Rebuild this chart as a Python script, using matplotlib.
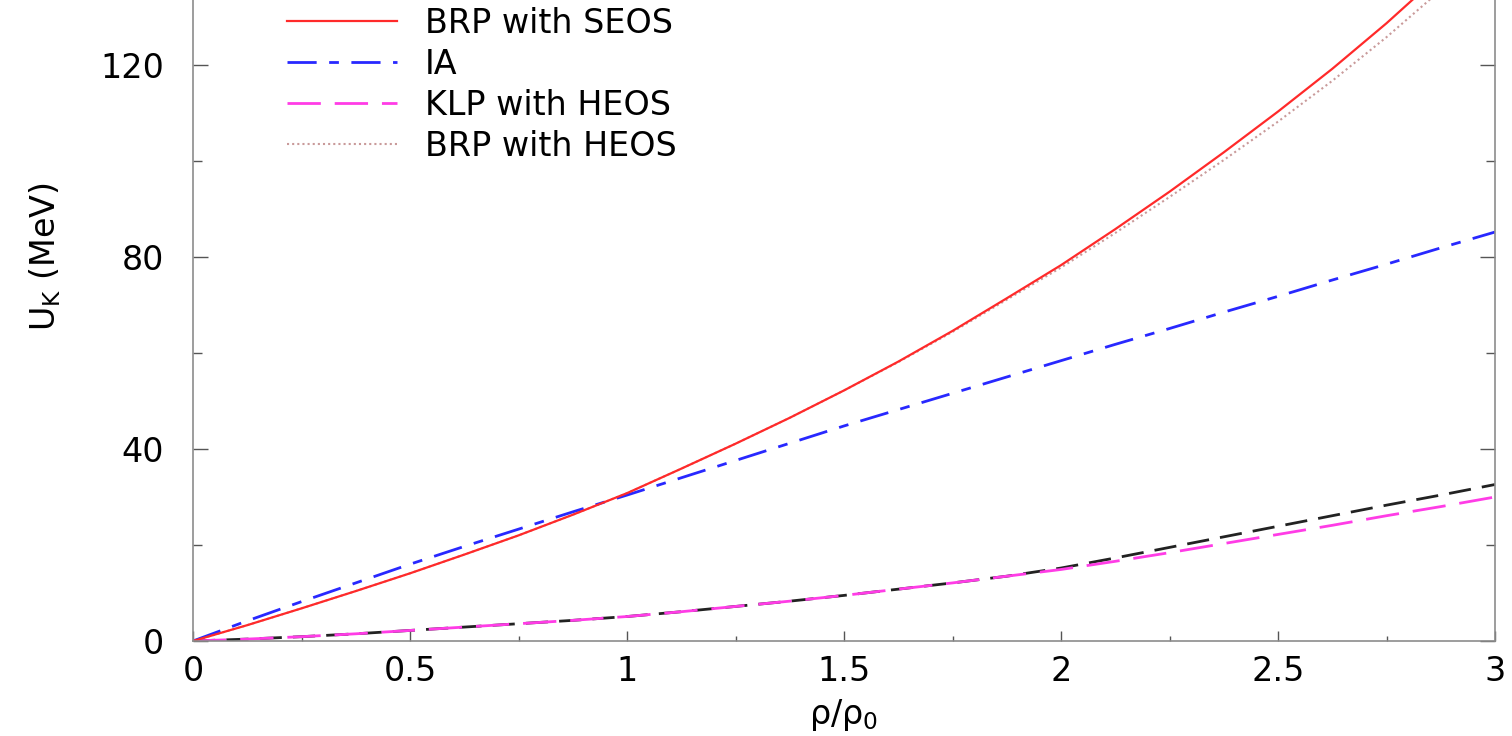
import matplotlib
matplotlib.use("Agg")
import matplotlib.pyplot as plt
from matplotlib.ticker import MultipleLocator, FixedLocator, FuncFormatter

# data (rho/rho0 vs U_K in MeV), step 0.125
rho = [0, 0.125, 0.25, 0.375, 0.5, 0.625, 0.75, 0.875, 1.0, 1.125, 1.25, 1.375, 1.5,
       1.625, 1.75, 1.875, 2.0, 2.125, 2.25, 2.375, 2.5, 2.625, 2.75, 2.875, 3.0]
brp_seos = [0, 3.3, 6.8, 10.4, 14.1, 18.0, 22.0, 26.3, 30.8, 35.9, 41.1, 46.5, 52.2,
            58.2, 64.6, 71.4, 78.3, 85.8, 93.6, 101.8, 110.3, 119.2, 128.7, 138.9, 149.8]
brp_heos = [0, 3.3, 6.8, 10.4, 14.1, 18.0, 22.0, 26.3, 30.8, 35.9, 41.1, 46.5, 52.2,
            58.1, 64.4, 71.1, 77.8, 85.0, 92.5, 100.2, 108.2, 116.7, 125.8, 135.6, 146.1]
ia = [0, 4.2, 8.2, 12.1, 16.0, 19.7, 23.3, 26.9, 30.4, 34.0, 37.6, 41.2, 44.8,
      48.2, 51.6, 55.0, 58.4, 61.8, 65.1, 68.5, 71.8, 75.2, 78.5, 81.9, 85.2]
klp_heos = [0, 0.4, 0.9, 1.5, 2.2, 2.9, 3.6, 4.3, 5.1, 6.1, 7.2, 8.3, 9.5,
            10.8, 12.1, 13.5, 14.9, 16.6, 18.4, 20.3, 22.2, 24.1, 26.1, 28.0, 30.0]
klp_seos = [0, 0.4, 0.9, 1.5, 2.2, 2.9, 3.6, 4.3, 5.1, 6.1, 7.2, 8.3, 9.5,
            10.8, 12.1, 13.5, 15.2, 17.3, 19.5, 21.7, 23.9, 26.1, 28.3, 30.4, 32.6]

labels = ["BRP with SEOS", "IA", "KLP with HEOS", "BRP with HEOS"]
yticks = [0, 40, 80, 120]

plt.rcParams['font.family'] = ['DejaVu Sans']
plt.rcParams['mathtext.fontset'] = 'dejavusans'
plt.rcParams['lines.scale_dashes'] = False

fig = plt.figure(figsize=(15.12, 7.36), dpi=100)
# axes top lies above the figure (reference is cropped at the top)
ax = fig.add_axes([193 / 1512, 95 / 736, 1302 / 1512, 768 / 736])

ax.plot(rho, klp_seos, color='#222222', lw=2.0, dashes=(16, 8))
ax.plot(rho, brp_heos, color='#c99a9a', lw=1.5, dashes=(1.5, 2.2), label=labels[3])
ax.plot(rho, ia, color='#2828ff', lw=2.0, dashes=(21, 9, 7, 9), label=labels[1])
ax.plot(rho, klp_heos, color='#ff3ce6', lw=2.0, dashes=(24, 10), label=labels[2])
ax.plot(rho, brp_seos, color='#ff2a2a', lw=1.6, label=labels[0])

ax.set_xlim(0, 3)
ax.set_ylim(0, 160)

ax.xaxis.set_major_locator(MultipleLocator(0.5))
ax.xaxis.set_minor_locator(MultipleLocator(0.25))
ax.yaxis.set_major_locator(FixedLocator(yticks))
ax.yaxis.set_minor_locator(FixedLocator([20, 60, 100, 140]))
ax.xaxis.set_major_formatter(FuncFormatter(lambda v, p: '%g' % v))

ax.tick_params(axis='both', which='both', direction='in', right=True, top=True,
               color='#555555', width=1.0, labelsize=24)
ax.tick_params(axis='x', which='major', length=7.2, pad=10)
ax.tick_params(axis='x', which='minor', length=3.6)
ax.tick_params(axis='y', which='major', length=10.8, pad=21)
ax.tick_params(axis='y', which='minor', length=6.5)

for s in ax.spines.values():
    s.set_color('#8c8c8c')
    s.set_linewidth(1.2)

ax.set_xlabel('ρ/ρ$_0$', fontsize=24)
ax.xaxis.set_label_coords(0.5, -0.073)
ax.set_ylabel('U$_{\\rm K}$ (MeV)', fontsize=24)
ax.yaxis.set_label_coords(-0.1, 0.5)

h, l = ax.get_legend_handles_labels()
order = [l.index(name) for name in labels]
ax.legend([h[i] for i in order], [l[i] for i in order],
          loc='upper left', bbox_to_anchor=(287 / 1512, 729 / 736),
          bbox_transform=fig.transFigure, frameon=False, fontsize=24,
          handlelength=3.3, handletextpad=0.84, labelspacing=0.24,
          borderpad=0, borderaxespad=0)

fig.savefig('out.png', dpi=100)
